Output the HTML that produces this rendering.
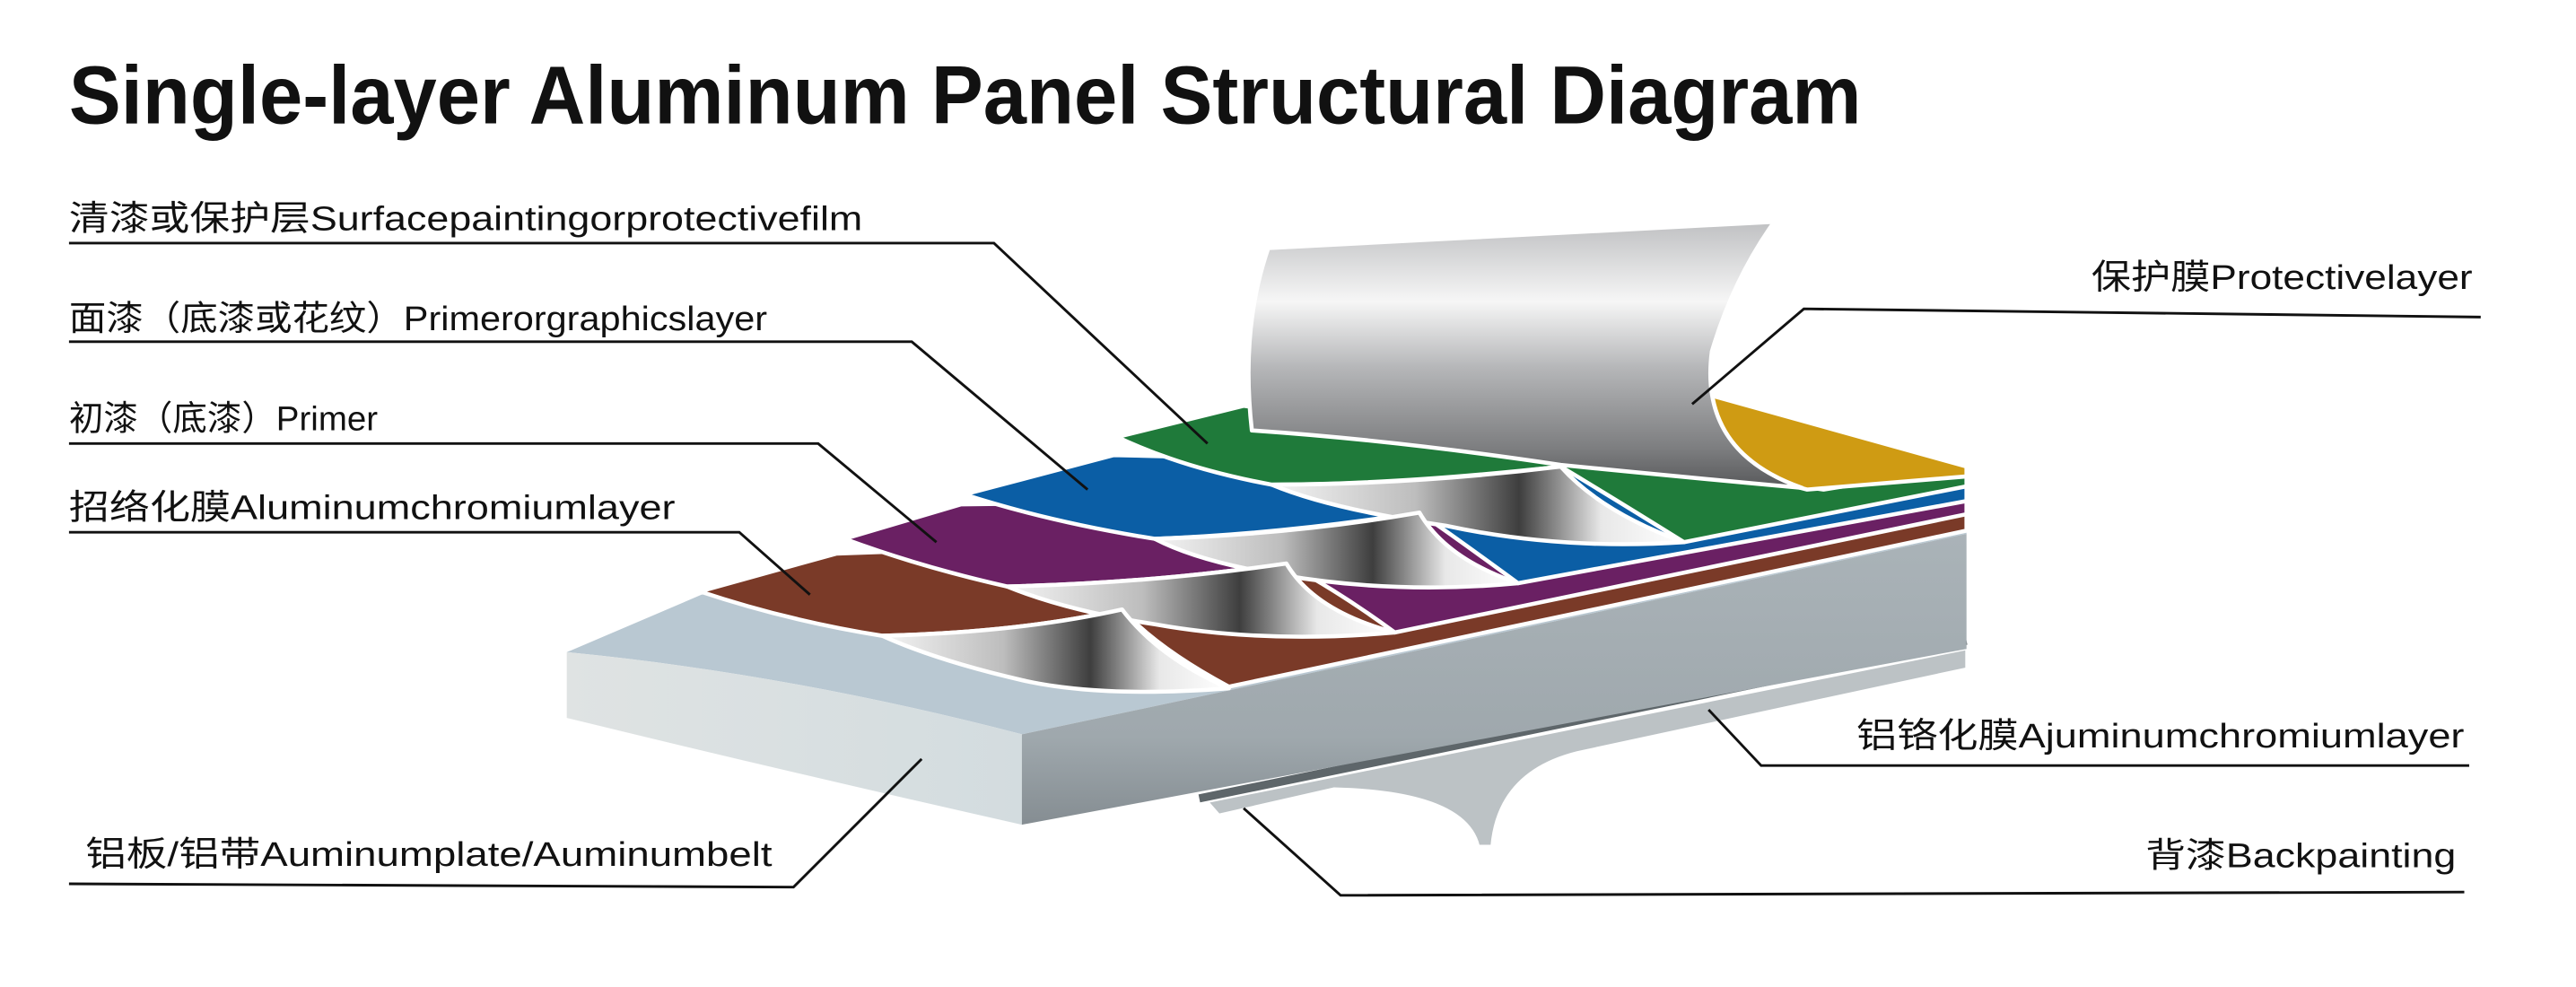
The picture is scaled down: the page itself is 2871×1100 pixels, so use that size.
<!DOCTYPE html>
<html><head><meta charset="utf-8"><style>
html,body{margin:0;padding:0;background:#fff;}
svg{display:block;}
.t{font-family:"Liberation Sans","Noto Sans CJK SC",sans-serif;fill:#111;}
</style></head><body>
<svg width="2871" height="1100" viewBox="0 0 1568 600.8" preserveAspectRatio="none" xmlns="http://www.w3.org/2000/svg">
<defs>
<linearGradient id="film" x1="0" y1="0" x2="0" y2="1">
<stop offset="0" stop-color="#bfc0c2"/><stop offset="0.3" stop-color="#f6f6f6"/><stop offset="0.55" stop-color="#b5b6b8"/><stop offset="0.85" stop-color="#7d7e80"/><stop offset="1" stop-color="#58595b"/>
</linearGradient>
<linearGradient id="curl" x1="0" y1="0" x2="1" y2="0">
<stop offset="0" stop-color="#f4f4f4"/><stop offset="0.35" stop-color="#bdbdbd"/><stop offset="0.6" stop-color="#3e3e3e"/><stop offset="0.8" stop-color="#e8e8e8"/><stop offset="1" stop-color="#ffffff"/>
</linearGradient>
<linearGradient id="front" x1="0" y1="0" x2="1" y2="0">
<stop offset="0" stop-color="#dfe3e3"/><stop offset="1" stop-color="#d3dcdf"/>
</linearGradient>
<linearGradient id="side" x1="0" y1="0" x2="0" y2="1">
<stop offset="0" stop-color="#aab3b8"/><stop offset="0.7" stop-color="#9fa8ad"/><stop offset="1" stop-color="#858d92"/>
</linearGradient>
</defs>

<text class="t" x="42" y="75" font-size="50" font-weight="bold" textLength="1091" lengthAdjust="spacingAndGlyphs">Single-layer Aluminum Panel Structural Diagram</text>

<!-- underside -->
<path d="M735,488 L1197,395 L1197,407 L960,458 Q912,470 908,515 L900,515 Q892,482 812,480 L742,496 Z" fill="#bcc2c5" stroke="#fff" stroke-width="1.5"/>
<path d="M730,486 L1197,390" stroke="#5e666a" stroke-width="5"/>
<!-- slab -->
<path d="M345,397 Q480,410 622,447 L1197,325 L1197,290 L427,362 Z" fill="#b9c8d2"/>
<path d="M345,397 Q480,410 622,447 L622,502 Q480,470 345,437 Z" fill="url(#front)"/>
<path d="M622,447 L1197,325 L1197,395 L622,502 Z" fill="url(#side)"/>

<!-- layers -->
<g stroke="#fff" stroke-width="2.5" stroke-linejoin="round">
<path d="M426,360 L509,337 L1197,312 L1197,323 L748,418 Q705,395 683,371 Q620,385 537,387 Q480,378 426,360 Z" fill="#7a3a28"/>
<path d="M514,328 L585,307 L1197,300 L1197,313 L849,385 Q815,360 783,343 Q700,355 613,357 Q560,345 514,328 Z" fill="#6a2063"/>
<path d="M587,301 L678,277 L1197,290 L1197,305 L924,355 Q890,330 864,312 Q780,325 703,328 Q640,318 587,301 Z" fill="#0b5ea5"/>
<path d="M680,266 L757,247 L1110,298 L1197,284 L1197,296 L1025,330 Q985,305 950,284 Q850,295 774,295 Q720,285 680,266 Z" fill="#1f7a3a"/>
<path d="M1039,240 L1197,284 L1197,290 L1100,298 Q1045,285 1039,240 Z" fill="#cf9b13"/>
<!-- curls -->
<path d="M774,295 Q860,295 950,284 Q975,312 1025,330 Q950,335 880,320 Q810,310 774,295 Z" fill="url(#curl)"/>
<path d="M703,328 Q790,325 864,312 Q880,340 924,355 Q850,362 780,350 Q730,342 703,328 Z" fill="url(#curl)"/>
<path d="M613,357 Q700,355 783,343 Q800,372 849,385 Q770,392 703,380 Q650,372 613,357 Z" fill="url(#curl)"/>
<path d="M537,387 Q620,385 683,371 Q705,400 748,419 Q670,425 622,414 Q570,402 537,387 Z" fill="url(#curl)"/>
<!-- film -->
<path d="M772,151 L1080,135 Q1055,170 1042,214 Q1034,275 1097,297 Q1020,290 950,283 Q850,268 762,262 Q755,200 772,151 Z" fill="url(#film)"/>
</g>

<!-- leaders -->
<g stroke="#111" stroke-width="1.6" fill="none">
<path d="M42,148 L605,148 L735,270"/>
<path d="M42,208 L555,208 L662,298"/>
<path d="M42,270 L498,270 L570,330"/>
<path d="M42,324 L450,324 L493,362"/>
<path d="M42,538 L483,540 L561,462"/>
<path d="M1510,193 L1098,188 L1030,246"/>
<path d="M1503,466 L1072,466 L1040,432"/>
<path d="M1500,543 L816,545 L757,492"/>
</g>

<g font-size="21">
<text class="t" x="42" y="140" textLength="483" lengthAdjust="spacingAndGlyphs">清漆或保护层Surfacepaintingorprotectivefilm</text>
<text class="t" x="42" y="201" textLength="425" lengthAdjust="spacingAndGlyphs">面漆（底漆或花纹）Primerorgraphicslayer</text>
<text class="t" x="42" y="262" textLength="188" lengthAdjust="spacingAndGlyphs">初漆（底漆）Primer</text>
<text class="t" x="42" y="316" textLength="369" lengthAdjust="spacingAndGlyphs">招络化膜Aluminumchromiumlayer</text>
<text class="t" x="52" y="527" textLength="418" lengthAdjust="spacingAndGlyphs">铝板/铝带Auminumplate/Auminumbelt</text>
<text class="t" x="1273" y="176" textLength="232" lengthAdjust="spacingAndGlyphs">保护膜Protectivelayer</text>
<text class="t" x="1130" y="455" textLength="370" lengthAdjust="spacingAndGlyphs">铝铬化膜Ajuminumchromiumlayer</text>
<text class="t" x="1306" y="528" textLength="189" lengthAdjust="spacingAndGlyphs">背漆Backpainting</text>
</g>
</svg>
</body></html>
